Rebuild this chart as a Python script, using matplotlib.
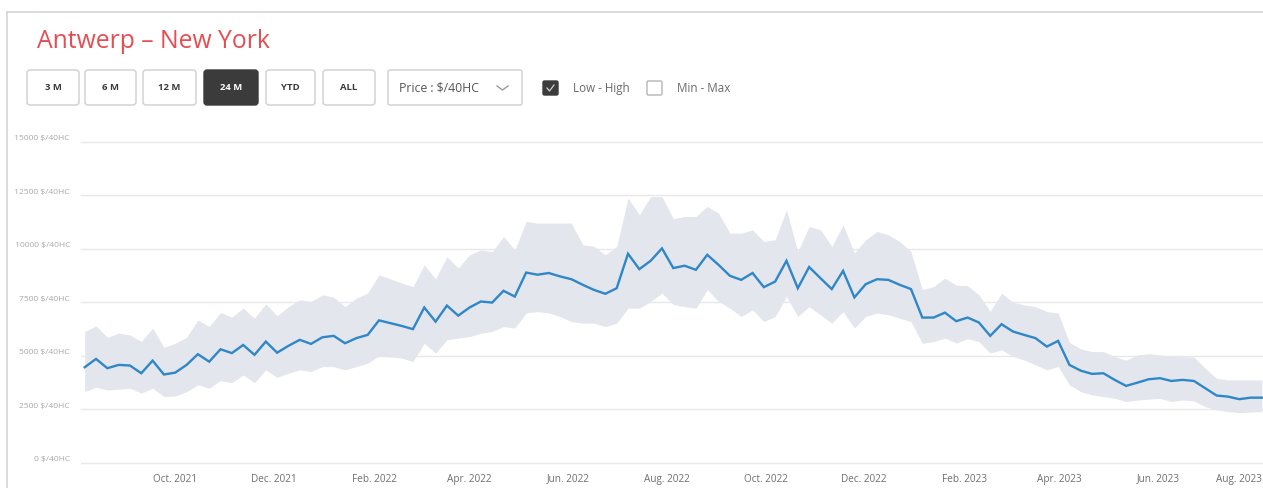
import matplotlib
matplotlib.use("Agg")
import matplotlib.pyplot as plt
import matplotlib.dates as mdates
import pandas as pd
from matplotlib.patches import FancyBboxPatch
from matplotlib.lines import Line2D
from matplotlib.transforms import ScaledTranslation

plt.rcParams['font.family'] = ['Open Sans', 'DejaVu Sans']

# ---- content -------------------------------------------------------------
title = "Antwerp – New York"
range_buttons = ["3 M", "6 M", "12 M", "24 M", "YTD", "ALL"]
active_button = "24 M"
price_unit = "Price : $/40HC"
band_options = ["Low - High", "Min - Max"]
band_checked = [True, False]

# weekly freight rates, USD per 40' high cube
start_date = "2021-08-06"
avg_price = [
    4470, 4860, 4425, 4580, 4550, 4190, 4780, 4130, 4220, 4580,
    5080, 4730, 5310, 5130, 5510, 5050, 5670, 5150, 5470, 5750,
    5560, 5870, 5935, 5590, 5830, 5980, 6660, 6530, 6400, 6250,
    7260, 6600, 7350, 6880, 7260, 7540, 7490, 8040, 7770, 8890,
    8790, 8870, 8710, 8580, 8320, 8080, 7900, 8160, 9770, 9050,
    9440, 10020, 9100, 9210, 9020, 9720, 9250, 8740, 8550, 8870,
    8210, 8470, 9440, 8160, 9150, 8630, 8120, 8970, 7730, 8350,
    8580, 8550, 8320, 8120, 6790, 6790, 7020, 6620, 6790, 6560,
    5935, 6480, 6140, 5980, 5830, 5435, 5700, 4580, 4310, 4160,
    4190, 3880, 3600, 3750, 3910, 3960, 3830, 3880, 3830, 3490,
    3150, 3100, 2980, 3050, 3050,
]
high_price = [
    6140, 6400, 5870, 6060, 5980, 5670, 6300, 5400, 5590, 5870,
    6680, 6370, 7020, 6810, 7230, 6760, 7430, 6870, 7300, 7620,
    7540, 7850, 7740, 7300, 7700, 7930, 8780, 8600, 8400, 8240,
    9250, 8600, 9630, 9100, 9720, 9950, 9870, 10570, 9950, 11280,
    11200, 11200, 11200, 11200, 10190, 10110, 9720, 10110, 12370, 11590,
    12440, 12440, 11400, 11510, 11510, 11980, 11670, 10730, 10730, 10890,
    10340, 10420, 11820, 9870, 11040, 10890, 10110, 11120, 9800, 10420,
    10810, 10650, 10340, 9870, 8090, 8240, 8630, 8300, 8280, 7850,
    7070, 7930, 7500, 7380, 7300, 7070, 7000, 5630, 5330, 5200,
    5200, 4970, 4800, 5050, 5100, 5050, 5000, 4970, 4950, 4420,
    3950, 3880, 3880, 3880, 3880,
]
low_price = [
    3330, 3540, 3410, 3440, 3490, 3260, 3490, 3100, 3130, 3330,
    3650, 3490, 3850, 3750, 4110, 3750, 4350, 4000, 4190, 4350,
    4270, 4500, 4500, 4350, 4500, 4660, 5000, 4950, 4900, 4730,
    5590, 5130, 5750, 5830, 5900, 6060, 6140, 6370, 6300, 7000,
    7070, 7000, 6840, 6600, 6530, 6530, 6370, 6530, 7230, 7230,
    7540, 7930, 7400, 7300, 7230, 8090, 7540, 7230, 6840, 7150,
    6600, 6840, 7770, 6840, 7300, 6920, 6530, 7070, 6300, 6840,
    7000, 6920, 6760, 6600, 5590, 5670, 5830, 5600, 5800, 5670,
    5130, 5280, 4970, 4810, 4580, 4350, 4500, 3650, 3330, 3180,
    3100, 3020, 2870, 2940, 2980, 3020, 2870, 2940, 2900, 2630,
    2480, 2400, 2350, 2380, 2400,
]

y_ticks = [0, 2500, 5000, 7500, 10000, 12500, 15000]
y_tick_labels = [f"{v} $/40HC" for v in y_ticks]
x_ticks = ["2021-10-01", "2021-12-01", "2022-02-01", "2022-04-01",
           "2022-06-01", "2022-08-01", "2022-10-01", "2022-12-01",
           "2023-02-01", "2023-04-01", "2023-06-01", "2023-08-01"]
x_tick_labels = ["Oct. 2021", "Dec. 2021", "Feb. 2022", "Apr. 2022",
                 "Jun. 2022", "Aug. 2022", "Oct. 2022", "Dec. 2022",
                 "Feb. 2023", "Apr. 2023", "Jun. 2023", "Aug. 2023"]

# ---- figure --------------------------------------------------------------
W, H = 1263, 488
fig = plt.figure(figsize=(W / 100, H / 100), dpi=100, facecolor="white")

# pixel-space layer for the card frame and the controls
ui = fig.add_axes([0, 0, 1, 1])
ui.set_xlim(0, W)
ui.set_ylim(H, 0)
ui.axis("off")

frame_col = "#d6d6d6"
ui.add_line(Line2D([7, W], [12, 12], color=frame_col, lw=1.2))
ui.add_line(Line2D([7, 7], [12, H], color=frame_col, lw=1.2))

ui.text(37, 48.5, title, fontsize=17.8, color="#e44d53", va="baseline", ha="left")

button_x = [(27, 79), (85, 136), (143, 196), (204, 258), (266, 315), (323, 375)]
by0, by1 = 70, 105
for label, (x0, x1) in zip(range_buttons, button_x):
    active = label == active_button
    box = FancyBboxPatch((x0, by0), x1 - x0, by1 - by0,
                         boxstyle="round,pad=0,rounding_size=3",
                         fc="#3b3b3b" if active else "white",
                         ec="#3b3b3b" if active else "#cfcfcf", lw=1)
    ui.add_patch(box)
    ui.text((x0 + x1) / 2, (by0 + by1) / 2 + 0.5, label, fontsize=6.8,
            fontweight="bold", color="white" if active else "#3a3a3a",
            ha="center", va="center")

# unit drop-down
ui.add_patch(FancyBboxPatch((388, by0), 134, by1 - by0,
                            boxstyle="round,pad=0,rounding_size=2",
                            fc="white", ec="#cfcfcf", lw=1))
ui.text(399, 88, price_unit, fontsize=8.8, color="#555555", ha="left", va="center")
ui.add_line(Line2D([497, 502.5, 508], [86, 90, 86], color="#9a9a9a", lw=1))

# band check boxes
check_x = [543, 647]
for lab, cx, on in zip(band_options, check_x, band_checked):
    ui.add_patch(FancyBboxPatch((cx, 81), 15, 14,
                                boxstyle="round,pad=0,rounding_size=1.5",
                                fc="#3c3c3c" if on else "white",
                                ec="#3c3c3c" if on else "#b5b5b5", lw=1))
    if on:
        ui.add_line(Line2D([cx + 4, cx + 6.5, cx + 11], [88, 91, 85],
                           color="#cfcfcf", lw=0.9))
    ui.text(cx + 30, 88.5, lab, fontsize=8.4, color="#6a6a6a",
            ha="left", va="center")

# ---- chart ---------------------------------------------------------------
dates = pd.date_range(start_date, periods=len(avg_price), freq="7D")

px_per_day = 1.617
ax_left_px, ax_right_px = 81, W
first_px = 84.7
y0_px, y15k_px = 463.0, 141.7
y_pad = 300
unit_px = (y0_px - y15k_px) / 15000
ax_bot_px = y0_px + y_pad * unit_px
ax_top_px = y15k_px - y_pad * unit_px

ax = fig.add_axes([ax_left_px / W, (H - ax_bot_px) / H,
                   (ax_right_px - ax_left_px) / W, (ax_bot_px - ax_top_px) / H])
ax.set_facecolor("none")

d0 = mdates.date2num(dates[0])
x_left = d0 - (first_px - ax_left_px) / px_per_day
x_right = x_left + (ax_right_px - ax_left_px) / px_per_day
ax.set_xlim(x_left, x_right)
ax.set_ylim(-y_pad, 15000 + y_pad)

ax.fill_between(dates, low_price, high_price, color="#e4e6ed", lw=0, zorder=1)
ax.plot(dates, avg_price, color="#2f87c8", lw=1.7, zorder=3,
        solid_joinstyle="miter")

ax.set_yticks(y_ticks)
ax.set_yticklabels(y_tick_labels)
ax.grid(axis="y", color="#e8e8e8", lw=1, zorder=0)
ax.set_axisbelow(True)
for s in ax.spines.values():
    s.set_visible(False)

ax.tick_params(axis="y", length=0, pad=8, labelsize=6.1, labelcolor="#a9a9a9")
ax.tick_params(axis="x", length=0, pad=3, labelsize=7.2, labelcolor="#6f6f6f")
shift_up = ScaledTranslation(0, 4 / 100, fig.dpi_scale_trans)
for lbl in ax.get_yticklabels():
    lbl.set_transform(lbl.get_transform() + shift_up)

ax.set_xticks([mdates.date2num(pd.Timestamp(t)) for t in x_ticks])
ax.set_xticklabels(x_tick_labels)
last = ax.get_xticklabels()[-1]
last.set_horizontalalignment("right")
last.set_transform(last.get_transform() +
                   ScaledTranslation(5 / 100, 0, fig.dpi_scale_trans))

fig.savefig("out.png", dpi=100, facecolor="white")
